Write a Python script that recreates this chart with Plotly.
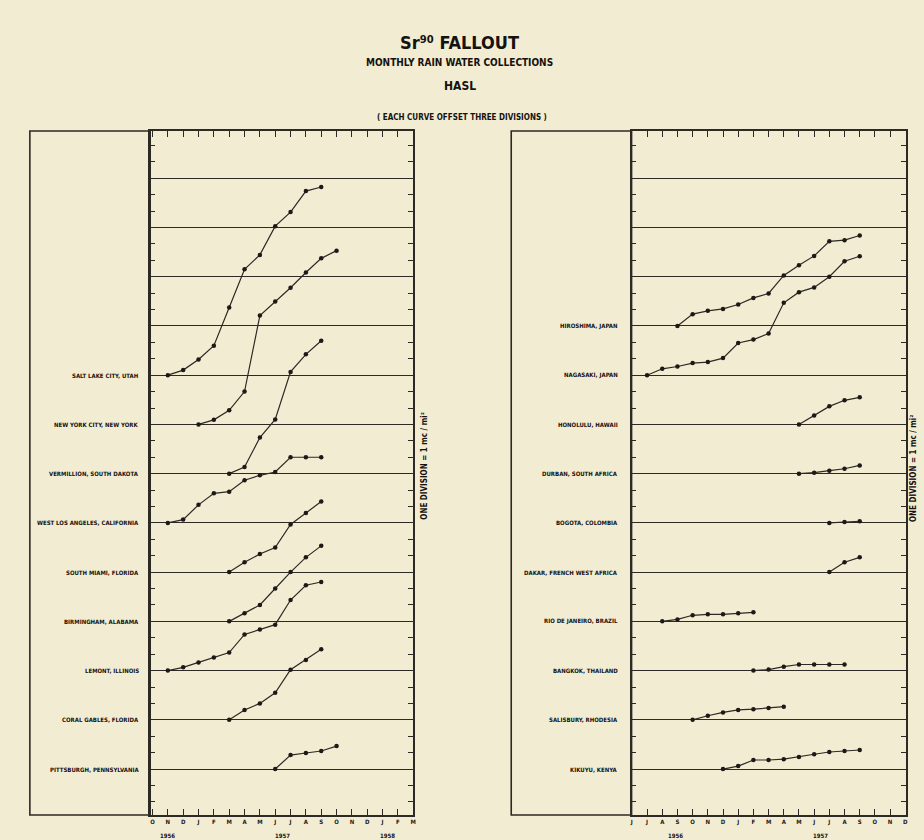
import plotly.graph_objects as go

W, H = 924, 840
PAPER = "#F2ECD3"
INK = "#2d2925"
FONT = "Liberation Sans Narrow, DejaVu Sans Condensed, Arial Narrow, sans-serif"

# ---- left panel: months Oct 1956 (index 0) .. Mar 1958 (index 17) ----
left_months = ["O", "N", "D", "J", "F", "M", "A", "M", "J", "J", "A", "S",
               "O", "N", "D", "J", "F", "M"]
left_years = ["1956", "1957", "1958"]
left_year_pos = [1.0, 8.5, 15.3]

left_stations = ["SALT LAKE CITY, UTAH", "NEW YORK CITY, NEW YORK",
                 "VERMILLION, SOUTH DAKOTA", "WEST LOS ANGELES, CALIFORNIA",
                 "SOUTH MIAMI, FLORIDA", "BIRMINGHAM, ALABAMA",
                 "LEMONT, ILLINOIS", "CORAL GABLES, FLORIDA",
                 "PITTSBURGH, PENNSYLVANIA"]
left_offsets = [24, 21, 18, 15, 12, 9, 6, 3, 0]
left_start = [1, 3, 5, 1, 5, 5, 1, 5, 8]

salt_lake = [0, 0.31, 0.96, 1.80, 4.12, 6.45, 7.33, 9.08, 9.94, 11.22, 11.47]
new_york = [0, 0.28, 0.86, 2.0, 6.63, 7.49, 8.33, 9.26, 10.12, 10.59]
vermillion = [0, 0.4, 2.2, 3.3, 6.2, 7.27, 8.1]
west_la = [0, 0.2, 1.1, 1.8, 1.9, 2.6, 2.9, 3.1, 4.0, 4.0, 4.0]
south_miami = [0, 0.6, 1.1, 1.5, 2.9, 3.6, 4.3]
birmingham = [0, 0.5, 1.0, 2.0, 3.0, 3.9, 4.6]
lemont = [0, 0.2, 0.5, 0.8, 1.1, 2.2, 2.5, 2.8, 4.3, 5.2, 5.4]
coral_gables = [0, 0.6, 1.0, 1.65, 3.05, 3.65, 4.3]
pittsburgh = [0, 0.85, 0.98, 1.1, 1.4]
left_values = [salt_lake, new_york, vermillion, west_la, south_miami,
               birmingham, lemont, coral_gables, pittsburgh]

# ---- right panel: months Jun 1956 (index 0) .. Dec 1957 (index 18) ----
right_months = ["J", "J", "A", "S", "O", "N", "D", "J", "F", "M", "A", "M",
                "J", "J", "A", "S", "O", "N", "D"]
right_years = ["1956", "1957"]
right_year_pos = [2.9, 12.4]

right_stations = ["HIROSHIMA, JAPAN", "NAGASAKI, JAPAN", "HONOLULU, HAWAII",
                  "DURBAN, SOUTH AFRICA", "BOGOTA, COLOMBIA",
                  "DAKAR, FRENCH WEST AFRICA", "RIO DE JANEIRO, BRAZIL",
                  "BANGKOK, THAILAND", "SALISBURY, RHODESIA", "KIKUYU, KENYA"]
right_offsets = [27, 24, 21, 18, 15, 12, 9, 6, 3, 0]
right_start = [3, 1, 11, 11, 13, 13, 2, 8, 4, 6]

hiroshima = [0, 0.72, 0.92, 1.04, 1.31, 1.71, 1.98, 3.08, 3.7, 4.27, 5.16,
             5.23, 5.51]
nagasaki = [0, 0.39, 0.53, 0.74, 0.8, 1.04, 1.96, 2.17, 2.54, 4.41, 5.06,
            5.35, 6.0, 6.94, 7.25]
honolulu = [0, 0.55, 1.1, 1.47, 1.65]
durban = [0, 0.06, 0.18, 0.3, 0.5]
bogota = [0, 0.05, 0.1]
dakar = [0, 0.6, 0.9]
rio = [0, 0.12, 0.37, 0.43, 0.43, 0.49, 0.55]
bangkok = [0, 0.06, 0.24, 0.37, 0.37, 0.37, 0.37]
salisbury = [0, 0.25, 0.45, 0.6, 0.65, 0.72, 0.8]
kikuyu = [0, 0.18, 0.55, 0.55, 0.6, 0.73, 0.9, 1.04, 1.1, 1.16]
right_values = [hiroshima, nagasaki, honolulu, durban, bogota, dakar, rio,
                bangkok, salisbury, kikuyu]


def px(x):
    return x / W


def py(y):
    return 1 - y / H


fig = go.Figure()


def add_curves(values, starts, offsets, xa, ya):
    for vals, s, off in zip(values, starts, offsets):
        fig.add_trace(go.Scatter(
            x=[s + i for i in range(len(vals))],
            y=[off + v for v in vals],
            mode="lines+markers", xaxis=xa, yaxis=ya,
            line=dict(color=INK, width=1.2),
            marker=dict(color="#1c1916", size=4.5),
            hoverinfo="skip", showlegend=False))


add_curves(left_values, left_start, left_offsets, "x", "y")
add_curves(right_values, right_start, right_offsets, "x2", "y2")

Y_RANGE = [-2.8, 38.88]
y_dom = [py(815), py(131)]

yax = dict(range=Y_RANGE, domain=y_dom, showticklabels=False,
           showline=True, linecolor=INK, linewidth=1.6, mirror="ticks",
           ticks="inside", ticklen=5, tickcolor=INK, tickwidth=1.2,
           tick0=0, dtick=3, showgrid=True, gridcolor=INK, gridwidth=1,
           zeroline=False,
           minor=dict(dtick=1, tick0=0, ticks="inside", ticklen=5,
                      tickcolor=INK, tickwidth=1.2, showgrid=False))


def xax(dom, rng, labels):
    return dict(domain=dom, range=rng, tickmode="array",
                tickvals=list(range(len(labels))),
                ticktext=["<b>%s</b>" % m for m in labels],
                tickfont=dict(family=FONT, size=6, color="#1c1916"),
                showline=True, linecolor=INK, linewidth=1.6, mirror="ticks",
                ticks="inside", ticklen=6, tickcolor=INK, tickwidth=1.2,
                showgrid=False, zeroline=False)


fig.update_layout(
    width=W, height=H, margin=dict(l=0, r=0, t=0, b=0),
    paper_bgcolor=PAPER, plot_bgcolor=PAPER, showlegend=False,
    xaxis=xax([px(149), px(413.5)], [-0.15, 17.0], left_months),
    yaxis=dict(yax, anchor="x"),
    xaxis2=dict(xax([px(633), px(908.5)], [-0.02, 18.02], right_months),
                anchor="y2"),
    yaxis2=dict(yax, anchor="x2"),
)
fig.layout.xaxis.anchor = "y"

# label-column frames
for x0, x1 in [(28, 149), (512, 633)]:
    fig.add_shape(type="rect", xref="paper", yref="paper",
                  x0=px(x0), x1=px(x1), y0=py(815), y1=py(131),
                  line=dict(color=INK, width=1.6), layer="below")

annotations = []


def text(x, y, s, size, xanchor="center", angle=0, xref="paper", yref="paper"):
    annotations.append(dict(x=x, y=y, xref=xref, yref=yref, text=s,
                            showarrow=False, xanchor=xanchor, yanchor="middle",
                            textangle=angle,
                            font=dict(family=FONT, size=size, color="#15120f")))


text(px(460), py(42), "<b>Sr⁹⁰ FALLOUT</b>", 18)
text(px(460), py(63), "<b>MONTHLY RAIN WATER COLLECTIONS</b>", 10)
text(px(460), py(86), "<b>HASL</b>", 12)
text(px(463), py(117.5), "<b>( EACH CURVE OFFSET THREE DIVISIONS )</b>", 8)

for name, off in zip(left_stations, left_offsets):
    text(px(140), off, "<b>%s</b>" % name, 6, xanchor="right", yref="y")
for name, off in zip(right_stations, right_offsets):
    text(px(621), off, "<b>%s</b>" % name, 6, xanchor="right", yref="y2")

for yr, pos in zip(left_years, left_year_pos):
    text(pos, py(835), "<b>%s</b>" % yr, 6, xref="x")
for yr, pos in zip(right_years, right_year_pos):
    text(pos, py(835), "<b>%s</b>" % yr, 6, xref="x2")

side = "<b>ONE DIVISION = 1 mc / mi²</b>"
text(px(424), py(466), side, 8, angle=-90)
text(px(916), py(468), side, 8, angle=-90)

fig.update_layout(annotations=annotations)
fig.write_html("out.html")
